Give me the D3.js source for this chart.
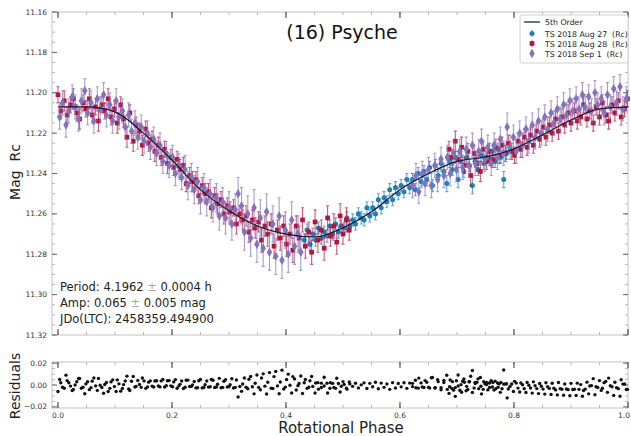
<!DOCTYPE html>
<html><head><meta charset="utf-8">
<script src="https://cdn.jsdelivr.net/npm/d3@7"></script>
<style>
body{margin:0;background:#fff}
svg{font-family:"DejaVu Sans",sans-serif}
text{white-space:pre}
</style></head><body>
<svg id="chart" width="631" height="436"></svg>
<script>
// 5th order fit
const modelPhase = [0,0.05,0.10,0.15,0.20,0.25,0.30,0.35,0.40,0.45,0.50,0.55,0.60,0.65,0.70,0.75,0.80,0.85,0.90,0.95,1.00];
const modelMag = [11.2070,11.2070,11.2095,11.2200,11.2333,11.2480,11.2585,11.2660,11.2700,11.2714,11.2669,11.2590,11.2480,11.2400,11.2340,11.2318,11.2278,11.2209,11.2135,11.2080,11.2070];

// [phase, mag, error]
const aug27 = [
[0.432,11.273,.003],[0.437,11.268,.003],[0.442,11.275,.003],[0.447,11.270,.003],[0.452,11.273,.003],[0.457,11.267,.003],
[0.462,11.272,.003],[0.467,11.269,.003],[0.472,11.271,.003],[0.477,11.266,.003],[0.482,11.270,.003],[0.487,11.265,.003],
[0.492,11.269,.003],[0.497,11.266,.003],[0.502,11.267,.003],[0.507,11.262,.003],[0.512,11.266,.003],[0.517,11.263,.003],
[0.522,11.265,.003],[0.527,11.260,.003],[0.532,11.262,.003],[0.537,11.263,.003],[0.542,11.257,.003],[0.547,11.261,.003],
[0.552,11.257,.003],[0.557,11.260,.003],[0.562,11.253,.003],[0.567,11.257,.003],[0.572,11.252,.003],[0.577,11.254,.003],
[0.582,11.248,.003],[0.587,11.253,.003],[0.592,11.247,.003],[0.597,11.250,.003],[0.602,11.246,.003],[0.607,11.249,.003],
[0.612,11.243,.003],[0.617,11.247,.003],[0.622,11.243,.003],[0.627,11.248,.003],[0.632,11.240,.003],[0.637,11.244,.003],
[0.642,11.239,.003],[0.647,11.243,.003],[0.652,11.237,.003],[0.657,11.246,.003],[0.662,11.236,.003],[0.667,11.241,.003],
[0.672,11.235,.003],[0.677,11.239,.003],[0.682,11.245,.004],[0.687,11.234,.003],[0.692,11.238,.003],[0.697,11.232,.003],
[0.702,11.243,.004],[0.707,11.234,.003],[0.712,11.239,.003],[0.717,11.232,.003],[0.722,11.236,.003],[0.727,11.246,.004],
[0.732,11.234,.003],[0.737,11.238,.003],[0.742,11.231,.003],[0.747,11.235,.003],[0.752,11.232,.003],[0.757,11.233,.003],
[0.762,11.229,.003],[0.767,11.234,.003],[0.772,11.228,.003],[0.777,11.232,.003],[0.782,11.243,.004],[0.787,11.230,.003]
];
const aug28 = [
[0.000,11.201,.004],[0.005,11.209,.004],[0.011,11.204,.005],[0.016,11.211,.004],[0.022,11.206,.004],[0.027,11.203,.005],
[0.033,11.210,.004],[0.038,11.213,.005],[0.044,11.205,.004],[0.049,11.208,.004],[0.055,11.203,.005],[0.060,11.211,.004],
[0.066,11.207,.004],[0.071,11.214,.005],[0.077,11.206,.004],[0.082,11.209,.004],[0.088,11.203,.005],[0.093,11.212,.004],
[0.099,11.208,.004],[0.104,11.215,.005],[0.110,11.206,.004],[0.115,11.213,.004],[0.121,11.222,.005],[0.126,11.210,.004],
[0.132,11.224,.005],[0.137,11.216,.004],[0.143,11.219,.004],[0.148,11.226,.005],[0.154,11.218,.004],[0.159,11.225,.004],
[0.165,11.223,.004],[0.170,11.229,.005],[0.176,11.226,.004],[0.181,11.232,.004],[0.187,11.228,.004],[0.192,11.235,.005],
[0.198,11.232,.004],[0.203,11.237,.004],[0.209,11.233,.004],[0.214,11.238,.005],[0.220,11.236,.004],[0.225,11.245,.004],
[0.231,11.241,.004],[0.236,11.244,.005],[0.242,11.243,.004],[0.247,11.251,.004],[0.253,11.246,.004],[0.258,11.250,.005],
[0.264,11.249,.004],[0.269,11.257,.005],[0.275,11.251,.004],[0.280,11.255,.005],[0.286,11.253,.004],[0.291,11.260,.005],
[0.297,11.256,.004],[0.302,11.259,.005],[0.308,11.257,.004],[0.313,11.265,.005],[0.319,11.260,.004],[0.324,11.263,.005],
[0.330,11.261,.005],[0.335,11.269,.005],[0.341,11.263,.005],[0.346,11.267,.005],[0.352,11.264,.005],[0.357,11.273,.006],
[0.363,11.266,.005],[0.368,11.270,.006],[0.374,11.265,.005],[0.379,11.276,.006],[0.385,11.268,.005],[0.390,11.272,.006],
[0.396,11.266,.005],[0.401,11.275,.006],[0.407,11.270,.005],[0.412,11.278,.006],[0.418,11.266,.005],[0.423,11.272,.006],
[0.429,11.263,.006],[0.434,11.276,.006],[0.440,11.269,.005],[0.445,11.279,.006],[0.451,11.264,.006],[0.456,11.273,.006],
[0.462,11.268,.005],[0.467,11.277,.006],[0.473,11.262,.006],[0.478,11.271,.005],[0.484,11.266,.006],[0.489,11.274,.006],
[0.495,11.261,.006],[0.500,11.270,.005],[0.506,11.263,.006],[0.511,11.268,.005],
[0.686,11.228,.004],[0.691,11.232,.004],[0.697,11.224,.005],[0.702,11.233,.004],[0.708,11.227,.005],[0.713,11.236,.004],
[0.719,11.229,.004],[0.724,11.241,.005],[0.730,11.230,.004],[0.735,11.235,.004],[0.741,11.239,.005],[0.746,11.228,.004],
[0.752,11.234,.004],[0.757,11.229,.004],[0.763,11.233,.004],[0.768,11.227,.004],[0.774,11.231,.004],[0.779,11.226,.004],
[0.785,11.230,.004],[0.790,11.225,.004],[0.796,11.229,.004],[0.801,11.231,.004],[0.807,11.224,.004],[0.812,11.228,.004],
[0.818,11.222,.004],[0.823,11.227,.004],[0.829,11.221,.004],[0.834,11.226,.004],[0.840,11.219,.004],[0.845,11.223,.004],
[0.851,11.217,.004],[0.856,11.222,.004],[0.862,11.216,.004],[0.867,11.220,.004],[0.873,11.213,.004],[0.878,11.219,.004],
[0.884,11.212,.004],[0.889,11.216,.004],[0.895,11.210,.004],[0.900,11.215,.004],[0.906,11.209,.004],[0.911,11.214,.004],
[0.917,11.212,.004],[0.922,11.206,.004],[0.928,11.213,.004],[0.933,11.209,.004],[0.939,11.215,.004],[0.944,11.207,.004],
[0.950,11.212,.004],[0.955,11.205,.004],[0.961,11.211,.004],[0.966,11.214,.004],[0.972,11.206,.004],[0.977,11.210,.004],
[0.983,11.204,.004],[0.988,11.212,.004],[0.994,11.208,.004],[0.999,11.203,.004]
];
const sep1 = [
[0.003,11.212,.006],[0.008,11.205,.006],[0.014,11.216,.006],[0.019,11.209,.006],[0.025,11.202,.006],[0.030,11.207,.006],
[0.036,11.213,.006],[0.041,11.204,.006],[0.047,11.199,.006],[0.052,11.210,.006],[0.058,11.205,.006],[0.063,11.214,.006],
[0.069,11.203,.006],[0.074,11.208,.006],[0.080,11.201,.006],[0.085,11.211,.006],[0.091,11.206,.006],[0.096,11.214,.006],
[0.102,11.204,.006],[0.107,11.212,.006],[0.113,11.209,.006],[0.118,11.217,.006],[0.124,11.211,.006],[0.129,11.219,.006],
[0.135,11.215,.006],[0.140,11.222,.006],[0.146,11.217,.006],[0.151,11.224,.006],[0.157,11.220,.006],[0.162,11.227,.006],
[0.168,11.223,.006],[0.173,11.230,.006],[0.179,11.226,.006],[0.184,11.234,.006],[0.190,11.230,.006],[0.195,11.236,.006],
[0.201,11.232,.006],[0.206,11.240,.006],[0.212,11.236,.006],[0.217,11.242,.006],[0.223,11.238,.007],[0.228,11.246,.007],
[0.234,11.242,.007],[0.239,11.248,.007],[0.245,11.244,.007],[0.250,11.253,.007],[0.256,11.247,.007],[0.261,11.254,.007],
[0.267,11.250,.007],[0.272,11.257,.007],[0.278,11.252,.007],[0.283,11.261,.007],[0.289,11.254,.007],[0.294,11.262,.008],
[0.300,11.257,.008],[0.305,11.265,.008],[0.311,11.258,.008],[0.316,11.250,.008],[0.322,11.256,.009],[0.327,11.269,.009],
[0.333,11.260,.009],[0.338,11.272,.009],[0.344,11.257,.009],[0.349,11.275,.009],[0.355,11.262,.009],[0.360,11.277,.009],
[0.366,11.259,.009],[0.371,11.279,.009],[0.377,11.265,.009],[0.382,11.281,.009],[0.388,11.261,.009],[0.393,11.283,.009],
[0.399,11.268,.009],[0.404,11.280,.009],[0.410,11.263,.009],[0.415,11.276,.009],[0.421,11.270,.009],[0.426,11.279,.009],
[0.622,11.246,.006],[0.628,11.241,.006],[0.633,11.249,.006],[0.639,11.240,.006],[0.644,11.245,.006],[0.650,11.238,.006],
[0.655,11.246,.006],[0.661,11.236,.006],[0.666,11.243,.006],[0.672,11.233,.006],[0.677,11.241,.006],[0.683,11.232,.006],
[0.688,11.240,.006],[0.694,11.230,.006],[0.699,11.238,.006],[0.705,11.229,.006],[0.710,11.237,.006],[0.716,11.228,.006],
[0.721,11.236,.006],[0.727,11.226,.006],[0.732,11.235,.006],[0.738,11.229,.006],[0.743,11.224,.006],[0.749,11.233,.006],
[0.754,11.227,.006],[0.760,11.235,.006],[0.765,11.226,.006],[0.771,11.232,.006],[0.776,11.223,.006],[0.782,11.230,.006],
[0.788,11.217,.007],[0.793,11.227,.006],[0.799,11.222,.006],[0.804,11.229,.006],[0.810,11.220,.006],[0.815,11.226,.006],
[0.821,11.218,.006],[0.826,11.224,.006],[0.832,11.216,.006],[0.837,11.222,.006],[0.843,11.214,.006],[0.848,11.220,.006],
[0.854,11.212,.006],[0.859,11.218,.006],[0.865,11.210,.006],[0.870,11.215,.006],[0.876,11.208,.006],[0.881,11.213,.006],
[0.887,11.206,.006],[0.892,11.211,.006],[0.898,11.204,.006],[0.903,11.209,.006],[0.909,11.203,.006],[0.914,11.208,.006],
[0.920,11.201,.006],[0.925,11.207,.006],[0.931,11.202,.006],[0.936,11.209,.006],[0.942,11.200,.006],[0.947,11.206,.006],
[0.953,11.203,.006],[0.958,11.210,.006],[0.964,11.201,.006],[0.969,11.207,.006],[0.975,11.198,.006],[0.980,11.205,.006],
[0.986,11.197,.006],[0.991,11.208,.006],[0.997,11.203,.006]
];

const seriesNames = ['TS 2018 Aug 27  (Rc)', 'TS 2018 Aug 28  (Rc)', 'TS 2018 Sep 1  (Rc)'];
const seriesColors = ['#1f7fb6', '#b3143f', '#8373bd'];
const magTicks = [11.16, 11.18, 11.20, 11.22, 11.24, 11.26, 11.28, 11.30, 11.32];
const residTicks = [-0.02, 0.00, 0.02];
const phaseTicks = [0.0, 0.2, 0.4, 0.6, 0.8, 1.0];
const fitLines = [['Period: 4.1962 ', '±', ' 0.0004 h'], ['Amp: 0.065 ', '±', ' 0.005 mag'], ['JDo(LTC): 2458359.494900']];

const svg = d3.select('#chart');

const x = d3.scaleLinear().domain([-0.0105, 1]).range([52, 628]);
const y = d3.scaleLinear().domain([11.16, 11.32]).range([12, 335]);
const yr = d3.scaleLinear().domain([-0.021, 0.021]).range([408, 362]);
const model = d3.scaleLinear().domain(modelPhase).range(modelMag);

// frames
svg.append('rect').attr('x', 52).attr('y', 12).attr('width', 576).attr('height', 323)
	.attr('fill', 'none').attr('stroke', '#c4c4c4');
svg.append('rect').attr('x', 52).attr('y', 362).attr('width', 576).attr('height', 46)
	.attr('fill', 'none').attr('stroke', '#c4c4c4');

// inward ticks
function xTicks(vals, y0, dir, len, col) {
	svg.append('g').selectAll('line').data(vals).join('line')
		.attr('x1', d => x(d)).attr('x2', d => x(d))
		.attr('y1', y0).attr('y2', y0 + dir * len)
		.attr('stroke', col).attr('stroke-width', 1);
}
function yTicks(scale, vals, x0, dir, len, col) {
	svg.append('g').selectAll('line').data(vals).join('line')
		.attr('y1', d => scale(d)).attr('y2', d => scale(d))
		.attr('x1', x0).attr('x2', x0 + dir * len)
		.attr('stroke', col).attr('stroke-width', 1);
}
const minorX = d3.ticks(0, 1, 20);
[[12, 1], [335, -1], [362, 1], [408, -1]].forEach(([y0, dir]) => {
	xTicks(minorX, y0, dir, 3, '#b8b8b8');
	xTicks(phaseTicks, y0, dir, 6, '#333');
});
const minorY = d3.ticks(11.16, 11.32, 32);
yTicks(y, minorY, 52, 1, 3, '#b8b8b8');
yTicks(y, minorY, 628, -1, 3, '#b8b8b8');
yTicks(y, magTicks, 52, 1, 5, '#666');
yTicks(y, magTicks, 628, -1, 5, '#666');
const minorR = d3.ticks(-0.02, 0.02, 8);
yTicks(yr, minorR, 52, 1, 3, '#b8b8b8');
yTicks(yr, minorR, 628, -1, 3, '#b8b8b8');
yTicks(yr, residTicks, 52, 1, 5, '#666');
yTicks(yr, residTicks, 628, -1, 5, '#666');

// tick labels
svg.append('g').selectAll('text').data(magTicks).join('text')
	.attr('x', 47).attr('y', d => y(d) + 2.5).attr('text-anchor', 'end')
	.attr('font-size', 7.5).attr('fill', '#333').text(d3.format('.2f'));
svg.append('g').selectAll('text').data(residTicks).join('text')
	.attr('x', 47).attr('y', d => yr(d) + 2.5).attr('text-anchor', 'end')
	.attr('font-size', 7.5).attr('fill', '#333').text(d3.format('.2f'));
svg.append('g').selectAll('text').data(phaseTicks).join('text')
	.attr('x', d => d === 1 ? 630 : x(d)).attr('y', 418)
	.attr('text-anchor', d => d === 1 ? 'end' : 'middle')
	.attr('font-size', 7.5).attr('fill', '#333').text(d3.format('.1f'));

// axis titles
svg.append('text').attr('transform', 'translate(20,172) rotate(-90)')
	.attr('text-anchor', 'middle').attr('font-size', 14).attr('fill', '#222').text('Mag  Rc');
svg.append('text').attr('transform', 'translate(20,386) rotate(-90)')
	.attr('text-anchor', 'middle').attr('font-size', 14).attr('fill', '#222').text('Residuals');
svg.append('text').attr('x', 341).attr('y', 433).attr('text-anchor', 'middle')
	.attr('font-size', 15).attr('fill', '#222').text('Rotational Phase');
svg.append('text').attr('x', 342).attr('y', 39).attr('text-anchor', 'middle')
	.attr('font-size', 19).attr('fill', '#111').text('(16) Psyche');

// data with error bars
const symbols = [d3.symbolCircle, d3.symbolSquare, d3.symbolDiamond];
const symSizes = [20, 22, 26];
[aug27, aug28, sep1].forEach((data, i) => {
	const g = svg.append('g');
	const col = seriesColors[i];
	g.selectAll('.eb').data(data).join('path')
		.attr('d', d => {
			const xp = x(d[0]), y1 = y(d[1] - d[2]), y2 = y(d[1] + d[2]);
			return `M${xp},${y1}V${y2}M${xp - 1.5},${y1}h3M${xp - 1.5},${y2}h3`;
		})
		.attr('stroke', col).attr('stroke-opacity', 0.7).attr('fill', 'none').attr('stroke-width', 1.1);
	g.selectAll('.pt').data(data).join('path')
		.attr('transform', d => `translate(${x(d[0])},${y(d[1])})`)
		.attr('d', d3.symbol(symbols[i], symSizes[i]))
		.attr('fill', col);
});

// fit line
svg.append('path')
	.attr('d', d3.line().x((d, i) => x(modelPhase[i])).y(d => y(d)).curve(d3.curveMonotoneX)(modelMag))
	.attr('fill', 'none').attr('stroke', '#14142a').attr('stroke-width', 1.2);

// residuals
const resid = [...aug27, ...aug28, ...sep1].map(d => [d[0], d[1] - model(d[0])]);
svg.append('g').selectAll('circle').data(resid).join('circle')
	.attr('cx', d => x(d[0])).attr('cy', d => yr(d[1])).attr('r', 1.7).attr('fill', '#111');

// fit info text
const info = svg.append('g');
fitLines.forEach((parts, i) => {
	const t = info.append('text').attr('x', 60).attr('y', 291 + i * 16)
		.attr('font-size', 11.5).attr('fill', '#222');
	parts.forEach((p, j) => t.append('tspan').attr('fill', j === 1 ? '#aaa' : '#222').text(p));
});

// legend
const lg = svg.append('g');
lg.append('rect').attr('x', 520).attr('y', 15).attr('width', 108).attr('height', 48)
	.attr('fill', '#fff').attr('stroke', '#d0d0d0').attr('rx', 2);
lg.append('line').attr('x1', 524).attr('x2', 540).attr('y1', 22).attr('y2', 22)
	.attr('stroke', '#14142a').attr('stroke-width', 1.2);
lg.append('text').attr('x', 545).attr('y', 25).attr('font-size', 7.8).attr('fill', '#222').text('5th Order');
seriesNames.forEach((name, i) => {
	const cy = 33.5 + i * 10;
	lg.append('path').attr('d', `M532,${cy - 4}V${cy + 4}`).attr('stroke', seriesColors[i]).attr('stroke-opacity', 0.6);
	lg.append('path').attr('transform', `translate(532,${cy})`)
		.attr('d', d3.symbol(symbols[i], symSizes[i])).attr('fill', seriesColors[i]);
	lg.append('text').attr('x', 545).attr('y', cy + 3).attr('font-size', 7.8).attr('fill', '#222').text(name);
});
</script>
</body></html>
